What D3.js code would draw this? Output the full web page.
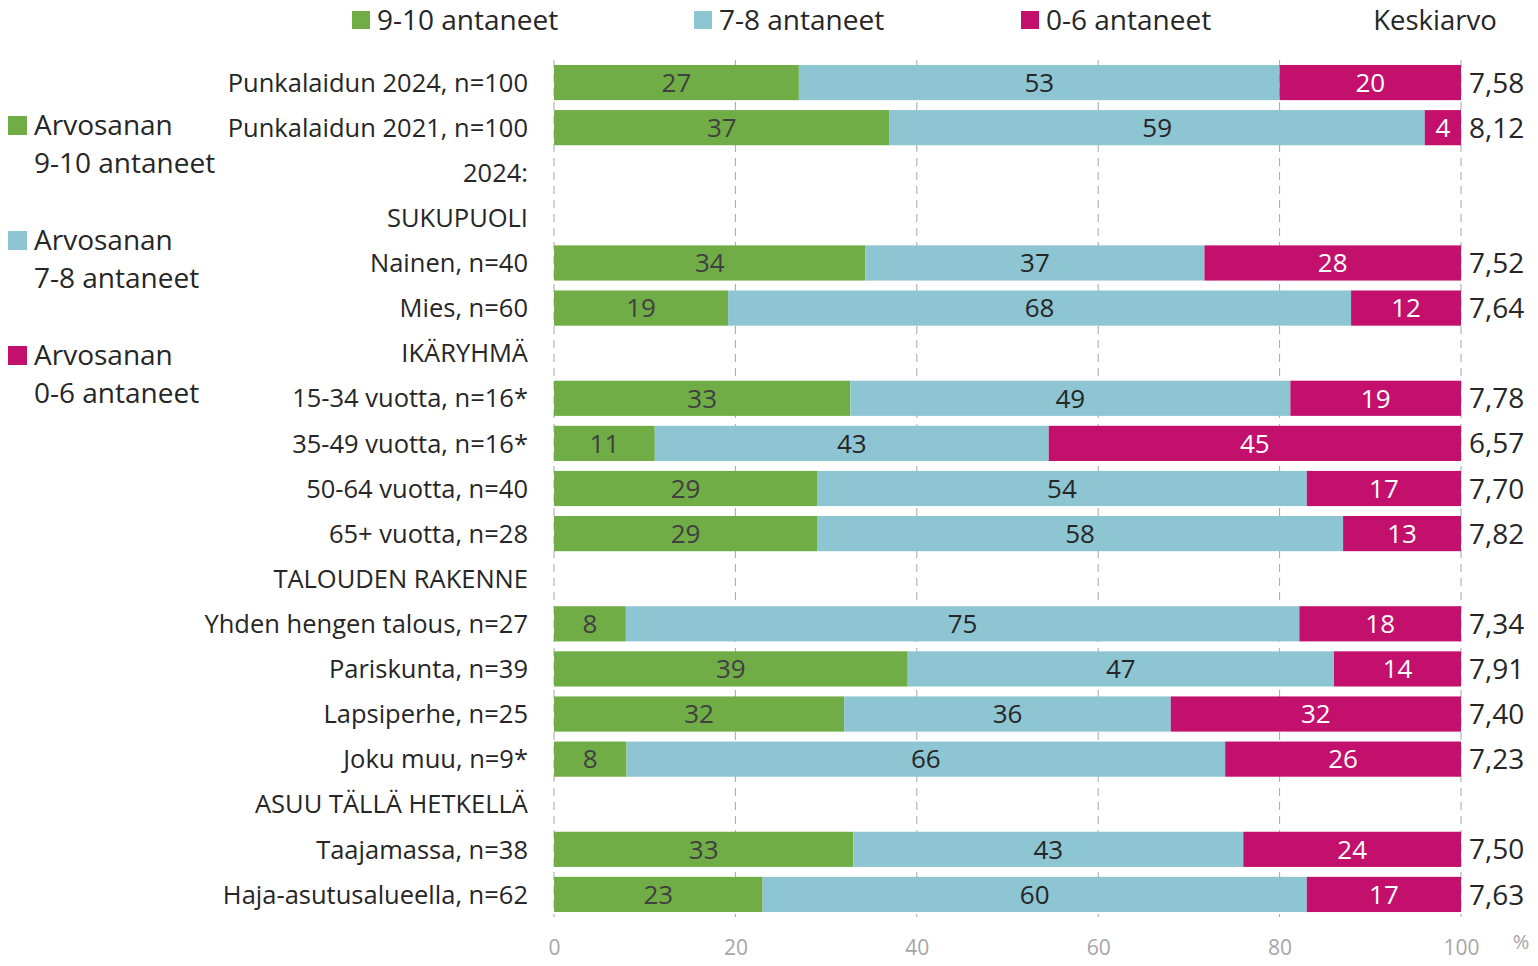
<!DOCTYPE html>
<html>
<head>
<meta charset="utf-8">
<script src="https://cdn.jsdelivr.net/npm/d3@7"></script>
<style>
  body { margin: 0; background: #fff; }
  svg text { font-family: "Open Sans", Lato, sans-serif; }
</style>
</head>
<body>
<div class="canvas"></div>
<script>
// rows top to bottom; headers have no values
const categories = [
    'Punkalaidun 2024, n=100', 'Punkalaidun 2021, n=100', '2024:', 'SUKUPUOLI',
    'Nainen, n=40', 'Mies, n=60', 'IKÄRYHMÄ',
    '15-34 vuotta, n=16*', '35-49 vuotta, n=16*', '50-64 vuotta, n=40', '65+ vuotta, n=28',
    'TALOUDEN RAKENNE',
    'Yhden hengen talous, n=27', 'Pariskunta, n=39', 'Lapsiperhe, n=25', 'Joku muu, n=9*',
    'ASUU TÄLLÄ HETKELLÄ',
    'Taajamassa, n=38', 'Haja-asutusalueella, n=62'
];
const high = [27, 37, null, null, 34, 19, null, 33, 11, 29, 29, null, 8, 39, 32, 8, null, 33, 23];
const middle = [53, 59, null, null, 37, 68, null, 49, 43, 54, 58, null, 75, 47, 36, 66, null, 43, 60];
const low = [20, 4, null, null, 28, 12, null, 19, 45, 17, 13, null, 18, 14, 32, 26, null, 24, 17];
const means = ['7,58', '8,12', '', '', '7,52', '7,64', '', '7,78', '6,57', '7,70', '7,82', '', '7,34', '7,91', '7,40', '7,23', '', '7,50', '7,63'];
const seriesKeys = ['high', 'middle', 'low'];
const seriesNames = ['9-10 antaneet', '7-8 antaneet', '0-6 antaneet'];
const xTicks = [0, 20, 40, 60, 80, 100];

const colors = { high: '#70ad47', middle: '#8dc5d3', low: '#c3106c' };
const labelColors = { high: '#404040', middle: '#262626', low: '#ffffff' };

const dimensions = { width: 1538, height: 966 };
const plot = { left: 554, right: 1461, top: 60, bottom: 917 };

const svg = d3.select('.canvas')
    .append('svg')
    .attr('width', dimensions.width)
    .attr('height', dimensions.height);

const x = d3.scaleLinear().domain([0, 100]).range([plot.left, plot.right]);
const y = d3.scaleBand()
    .domain(categories)
    .range([plot.top, plot.bottom])
    .paddingInner(0.22)
    .paddingOuter(0.11);

// dashed gridlines
svg.append('g')
    .selectAll('line')
    .data(xTicks)
    .join('line')
    .attr('x1', d => x(d)).attr('x2', d => x(d))
    .attr('y1', plot.top).attr('y2', plot.bottom)
    .attr('stroke', '#a6a6a6')
    .attr('stroke-width', 1)
    .attr('stroke-dasharray', '8,6');

// table for the stack
const table = categories.map((name, i) => ({
    name, high: high[i], middle: middle[i], low: low[i]
})).filter(d => d.high !== null);

const stack = d3.stack()
    .keys(seriesKeys)
    .offset(d3.stackOffsetExpand);

const layers = stack(table);

const layerGroups = svg.append('g')
    .selectAll('g')
    .data(layers)
    .join('g')
    .attr('fill', d => colors[d.key]);

layerGroups.selectAll('rect')
    .data(d => d)
    .join('rect')
    .attr('x', d => x(d[0] * 100))
    .attr('width', d => x(d[1] * 100) - x(d[0] * 100))
    .attr('y', d => y(d.data.name))
    .attr('height', y.bandwidth());

layerGroups.selectAll('text')
    .data(d => d.map(v => ({ v, key: d.key })))
    .join('text')
    .attr('x', d => (x(d.v[0] * 100) + x(d.v[1] * 100)) / 2)
    .attr('y', d => y(d.v.data.name) + y.bandwidth() / 2)
    .attr('dy', '0.36em')
    .attr('text-anchor', 'middle')
    .attr('font-size', 26)
    .attr('fill', d => labelColors[d.key])
    .text(d => d.v.data[d.key]);

// category labels
svg.append('g')
    .selectAll('text')
    .data(categories)
    .join('text')
    .attr('x', 528)
    .attr('y', d => y(d) + y.bandwidth() / 2)
    .attr('dy', '0.36em')
    .attr('text-anchor', 'end')
    .attr('font-size', 25.5)
    .attr('fill', '#262626')
    .text(d => d);

// means
svg.append('g')
    .selectAll('text')
    .data(categories)
    .join('text')
    .attr('x', 1469)
    .attr('y', d => y(d) + y.bandwidth() / 2)
    .attr('dy', '0.36em')
    .attr('font-size', 28)
    .attr('fill', '#262626')
    .text((d, i) => means[i]);

svg.append('text')
    .attr('x', 1435).attr('y', 30)
    .attr('text-anchor', 'middle')
    .attr('font-size', 27.5)
    .attr('fill', '#262626')
    .text('Keskiarvo');

// x axis
const xAxis = d3.axisBottom(x).tickValues(xTicks).tickSize(0).tickPadding(0);
const axisGroup = svg.append('g')
    .attr('transform', `translate(0, 940)`)
    .call(xAxis);
axisGroup.select('.domain').remove();
axisGroup.selectAll('text')
    .attr('font-size', 21)
    .attr('fill', '#a6a6a6')
    .attr('dy', '0.71em')
    .attr('font-family', '"Open Sans", sans-serif');

svg.append('text')
    .attr('x', 1521).attr('y', 949)
    .attr('text-anchor', 'middle')
    .attr('font-size', 20)
    .attr('fill', '#a6a6a6')
    .text('%');

// top legend
const topLegendX = [352, 694, 1021];
const topLegend = svg.append('g')
    .selectAll('g')
    .data(seriesKeys)
    .join('g')
    .attr('transform', (d, i) => `translate(${topLegendX[i]}, 11)`);
topLegend.append('rect')
    .attr('width', 18).attr('height', 18)
    .attr('fill', d => colors[d]);
topLegend.append('text')
    .attr('x', 25).attr('y', 19)
    .attr('font-size', 28)
    .attr('fill', '#262626')
    .text((d, i) => seriesNames[i]);

// left legend
const sideLegend = svg.append('g')
    .selectAll('g')
    .data(seriesKeys)
    .join('g')
    .attr('transform', (d, i) => `translate(8, ${116 + i * 115})`);
sideLegend.append('rect')
    .attr('width', 19).attr('height', 19)
    .attr('fill', d => colors[d]);
sideLegend.append('text')
    .attr('x', 26).attr('y', 19)
    .attr('font-size', 28)
    .attr('fill', '#262626')
    .text('Arvosanan');
sideLegend.append('text')
    .attr('x', 26).attr('y', 57)
    .attr('font-size', 28)
    .attr('fill', '#262626')
    .text((d, i) => seriesNames[i]);
</script>
</body>
</html>
